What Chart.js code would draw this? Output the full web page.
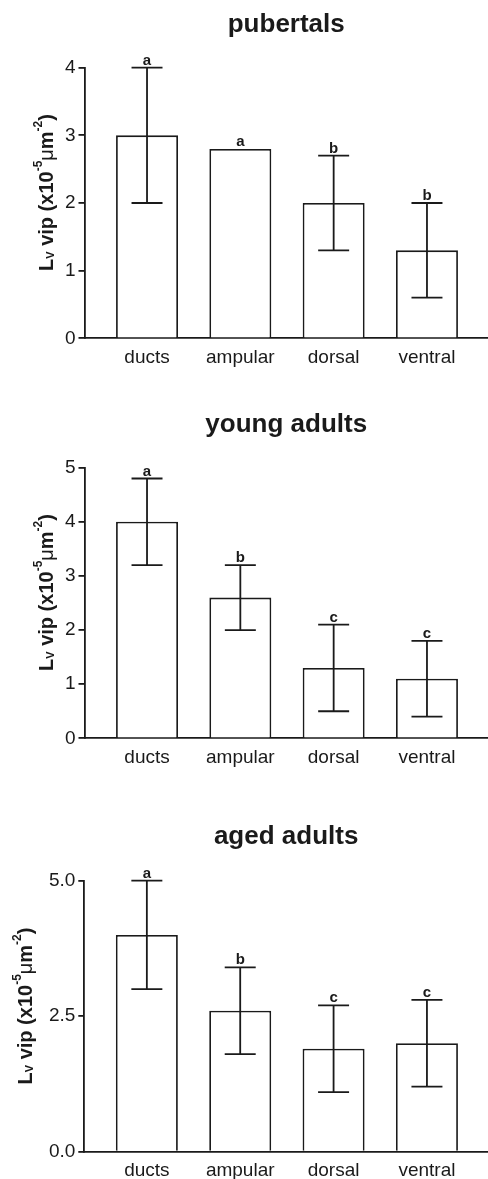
<!DOCTYPE html>
<html>
<head>
<meta charset="utf-8">
<script src="https://cdn.jsdelivr.net/npm/chart.js@4.4.1/dist/chart.umd.min.js"></script>
<style>
html, body { margin: 0; padding: 0; background: #fff; }
canvas { display: block; }
</style>
</head>
<body>
<canvas id="c1" width="488" height="400"></canvas>
<canvas id="c2" width="488" height="400"></canvas>
<canvas id="c3" width="488" height="379"></canvas>
<script>
// ===== data =====
var categories = ['ducts', 'ampular', 'dorsal', 'ventral'];

var pubertalMeans   = [3.0, 2.8, 2.0, 1.3];
var pubertalSD      = [1.0, 0.0, 0.7, 0.7];
var pubertalLetters = ['a', 'a', 'b', 'b'];
var pubertalTicks   = [0, 1, 2, 3, 4];

var youngMeans   = [4.0, 2.6, 1.3, 1.1];
var youngSD      = [0.8, 0.6, 0.8, 0.7];
var youngLetters = ['a', 'b', 'c', 'c'];
var youngTicks   = [0, 1, 2, 3, 4, 5];

var agedMeans   = [4.0, 2.6, 1.9, 2.0];
var agedSD      = [1.0, 0.8, 0.8, 0.8];
var agedLetters = ['a', 'b', 'c', 'c'];
var agedTicks   = [0, 2.5, 5.0];

// ===== style =====
var FONT = "Arial, 'Liberation Sans', sans-serif";
var INK = '#1a1a1a';
var LW = 1.8;

// y axis title pieces (L_V vip (x10^-5 µm^-2))
var Y_TITLE = [
  { t: 'L', size: 20, weight: 'bold', dy: 0 },
  { t: 'V', size: 11, weight: 'bold', dy: 1 },
  { t: ' vip (x10', size: 20, weight: 'bold', dy: 0 },
  { t: '-5', size: 12, weight: 'bold', dy: -11 },
  { t: '\u03bc', size: 20, weight: 'normal', dy: 0 },
  { t: 'm', size: 20, weight: 'bold', dy: 0 },
  { t: '-2', size: 12, weight: 'bold', dy: -11 },
  { t: ')', size: 20, weight: 'bold', dy: 0 }
];

function drawYTitle(ctx, baseX, centerY) {
  var total = 0;
  Y_TITLE.forEach(function(p) {
    ctx.font = p.weight + ' ' + p.size + 'px ' + FONT;
    p.w = ctx.measureText(p.t).width;
    total += p.w;
  });
  ctx.save();
  ctx.translate(baseX, centerY);
  ctx.rotate(-Math.PI / 2);
  ctx.textAlign = 'left';
  ctx.textBaseline = 'alphabetic';
  var x = -total / 2;
  Y_TITLE.forEach(function(p) {
    ctx.font = p.weight + ' ' + p.size + 'px ' + FONT;
    ctx.fillText(p.t, x, p.dy);
    x += p.w;
  });
  ctx.restore();
}

// ===== error bars, letters, titles =====
function decoPlugin(p) {
  return {
    id: 'panelDeco',
    afterDatasetsDraw: function(chart) {
      var ctx = chart.ctx;
      var xs = chart.scales.x, ys = chart.scales.y;
      var bars = chart.getDatasetMeta(0).data;
      ctx.save();
      ctx.strokeStyle = INK;
      ctx.fillStyle = INK;
      ctx.lineWidth = LW;
      ctx.textAlign = 'center';
      ctx.textBaseline = 'alphabetic';
      ctx.font = 'bold 15px ' + FONT;
      p.means.forEach(function(m, i) {
        var x = xs.getPixelForValue(i);
        var hi = ys.getPixelForValue(m + p.sd[i]);
        var lo = ys.getPixelForValue(m - p.sd[i]);
        var half = bars[i].width / 4;
        if (p.sd[i] > 0) {
          ctx.beginPath();
          ctx.moveTo(x, lo); ctx.lineTo(x, hi);
          ctx.moveTo(x - half, hi); ctx.lineTo(x + half, hi);
          ctx.moveTo(x - half, lo); ctx.lineTo(x + half, lo);
          ctx.stroke();
        }
        ctx.fillText(p.letters[i], x, hi - 3);
      });
      ctx.font = 'bold 26px ' + FONT;
      ctx.fillText(p.title, (chart.chartArea.left + chart.chartArea.right) / 2, p.titleY);
      drawYTitle(ctx, p.yTitleX, p.yTitleC);
      ctx.restore();
    }
  };
}

function makePanel(p) {
  var el = document.getElementById(p.id);
  return new Chart(el, {
    type: 'bar',
    data: {
      datasets: [{
        data: p.means.map(function(v, i) { return { x: i, y: v }; }),
        backgroundColor: '#fff',
        borderColor: INK,
        borderWidth: LW,
        borderSkipped: 'bottom',
        barPercentage: 0.664,
        categoryPercentage: 1
      }]
    },
    options: {
      responsive: false,
      animation: false,
      layout: { padding: { top: p.top, left: 0, right: 0, bottom: 0 } },
      plugins: { legend: { display: false }, tooltip: { enabled: false } },
      scales: {
        x: {
          type: 'linear',
          offset: false,
          min: -0.67,
          max: 3.654,
          grid: { display: false, drawTicks: false, offset: false },
          border: { display: true, color: INK, width: LW },
          afterBuildTicks: function(s) {
            s.ticks = categories.map(function(c, i) { return { value: i }; });
          },
          afterFit: function(s) { s.height = p.h - p.bottom; },
          ticks: {
            autoSkip: false,
            maxRotation: 0,
            padding: 8,
            color: INK,
            font: { size: 19, family: FONT },
            callback: function(v) { return categories[v]; }
          }
        },
        y: {
          min: p.ticks[0],
          max: p.ticks[p.ticks.length - 1],
          afterBuildTicks: function(s) {
            s.ticks = p.ticks.map(function(v) { return { value: v }; });
          },
          afterFit: function(s) { s.width = p.left; },
          grid: { drawOnChartArea: false, drawTicks: true, tickLength: 6, color: INK, lineWidth: LW },
          border: { display: true, color: INK, width: LW },
          ticks: {
            padding: 3,
            color: INK,
            font: { size: 19, family: FONT },
            callback: function(v) { return v.toFixed(p.decimals); }
          }
        }
      }
    },
    plugins: [decoPlugin(p)]
  });
}

makePanel({ id: 'c1', title: 'pubertals', means: pubertalMeans, sd: pubertalSD, letters: pubertalLetters,
  ticks: pubertalTicks, decimals: 0, h: 400, top: 67.7, bottom: 338.3, left: 84.5,
  titleY: 32, yTitleX: 53, yTitleC: 192.5 });
makePanel({ id: 'c2', title: 'young adults', means: youngMeans, sd: youngSD, letters: youngLetters,
  ticks: youngTicks, decimals: 0, h: 400, top: 67.7, bottom: 338.3, left: 84.5,
  titleY: 32, yTitleX: 53, yTitleC: 192.5 });
makePanel({ id: 'c3', title: 'aged adults', means: agedMeans, sd: agedSD, letters: agedLetters,
  ticks: agedTicks, decimals: 1, h: 379, top: 80.7, bottom: 351.7, left: 84.3,
  titleY: 44, yTitleX: 32, yTitleC: 206 });
</script>
</body>
</html>
